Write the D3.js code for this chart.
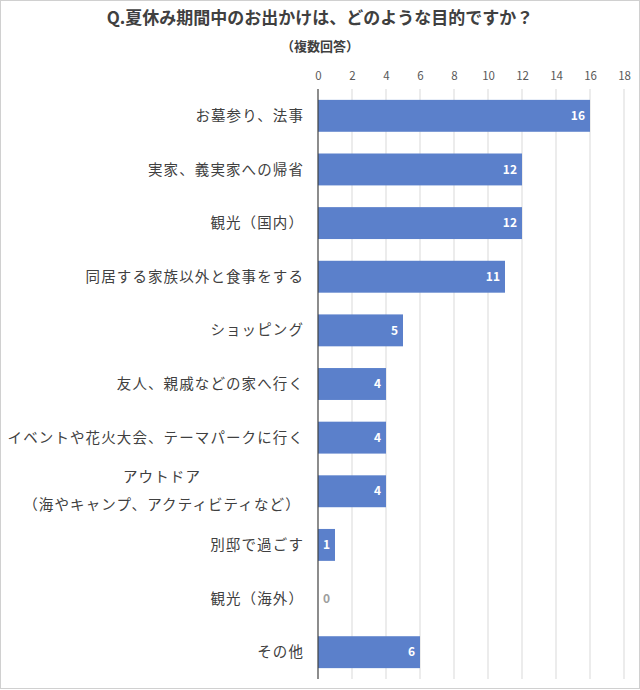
<!DOCTYPE html>
<html><head><meta charset="utf-8">
<script src="https://cdn.jsdelivr.net/npm/d3@7"></script>
<style>body{margin:0;background:#fff}svg{display:block}</style>
</head><body><svg id="c" width="640" height="690"></svg>
<script>
const categories = ["お墓参り、法事","実家、義実家への帰省","観光（国内）","同居する家族以外と食事をする","ショッピング","友人、親戚などの家へ行く","イベントや花火大会、テーマパークに行く","アウトドア\n（海やキャンプ、アクティビティなど）","別邸で過ごす","観光（海外）","その他"];
const values = [16,12,12,11,5,4,4,4,1,0,6];
const tickValues = [0,2,4,6,8,10,12,14,16,18];
const title = "Q.夏休み期間中のお出かけは、どのような目的ですか？";
const subtitle = "（複数回答）";

const font = "'Noto Sans CJK JP','Noto Sans',sans-serif";
const svg = d3.select("#c");
svg.append("rect").attr("x",0.5).attr("y",0.5).attr("width",639).attr("height",688)
  .attr("fill","#fff").attr("stroke","#d0d0d0");

const x = d3.scaleLinear().domain([0,18]).range([318,624]);
const y = d3.scaleBand().domain(categories).range([89,679]).paddingInner(0.405).paddingOuter(0.2025);

svg.append("text").attr("x",320).attr("y",24).attr("text-anchor","middle")
  .attr("font-family",font).attr("font-size",17).attr("font-weight","bold").attr("fill","#404040").text(title);
svg.append("text").attr("x",320).attr("y",51).attr("text-anchor","middle")
  .attr("font-family",font).attr("font-size",13).attr("font-weight","bold").attr("fill","#404040").text(subtitle);

// grid
svg.append("g").selectAll("line").data(tickValues.filter(d=>d>0)).join("line")
  .attr("x1",d=>x(d)).attr("x2",d=>x(d)).attr("y1",89).attr("y2",679)
  .attr("stroke","#d9d9d9").attr("stroke-width",1);

// top axis
const ax = svg.append("g").attr("transform","translate(0,80)")
  .call(d3.axisTop(x).tickValues(tickValues).tickSize(0).tickPadding(0));
ax.select(".domain").remove();
ax.selectAll("text").attr("font-family",font).attr("font-size",11.5).attr("fill","#595959");

// bars
svg.append("g").selectAll("rect").data(values).join("rect")
  .attr("x",x(0)).attr("y",(d,i)=>y(categories[i])).attr("width",d=>x(d)-x(0))
  .attr("height",y.bandwidth()).attr("fill","#5b80cb");

// axis line
svg.append("line").attr("x1",x(0)).attr("x2",x(0)).attr("y1",89).attr("y2",679)
  .attr("stroke","#404040").attr("stroke-width",1.2);

// value labels
svg.append("g").selectAll("text").data(values).join("text")
  .attr("x",d=>d===0? x(0)+5 : x(d)-5)
  .attr("y",(d,i)=>y(categories[i])+y.bandwidth()/2)
  .attr("dy","0.35em")
  .attr("text-anchor",d=>d===0?"start":"end")
  .attr("font-family",font).attr("font-size",12).attr("font-weight","bold")
  .attr("fill",d=>d===0?"#9e9e9e":"#fff").text(d=>d);

// category labels
const lg = svg.append("g");
categories.forEach((c,i)=>{
  const cy = y(c)+y.bandwidth()/2;
  const lines = c.split("\n");
  if(lines.length===1){
    lg.append("text").attr("x",304).attr("y",cy).attr("dy","0.35em").attr("text-anchor","end")
      .attr("font-family",font).attr("font-size",14.5).attr("letter-spacing","1.1px").attr("fill","#404040").text(c);
  } else {
    lines.forEach((l,j)=>{
      lg.append("text").attr("x",162).attr("y",cy+(j-0.5)*28).attr("dy","0.35em").attr("text-anchor","middle")
        .attr("font-family",font).attr("font-size",14.5).attr("letter-spacing","1.1px").attr("fill","#404040").text(l);
    });
  }
});
</script></body></html>
